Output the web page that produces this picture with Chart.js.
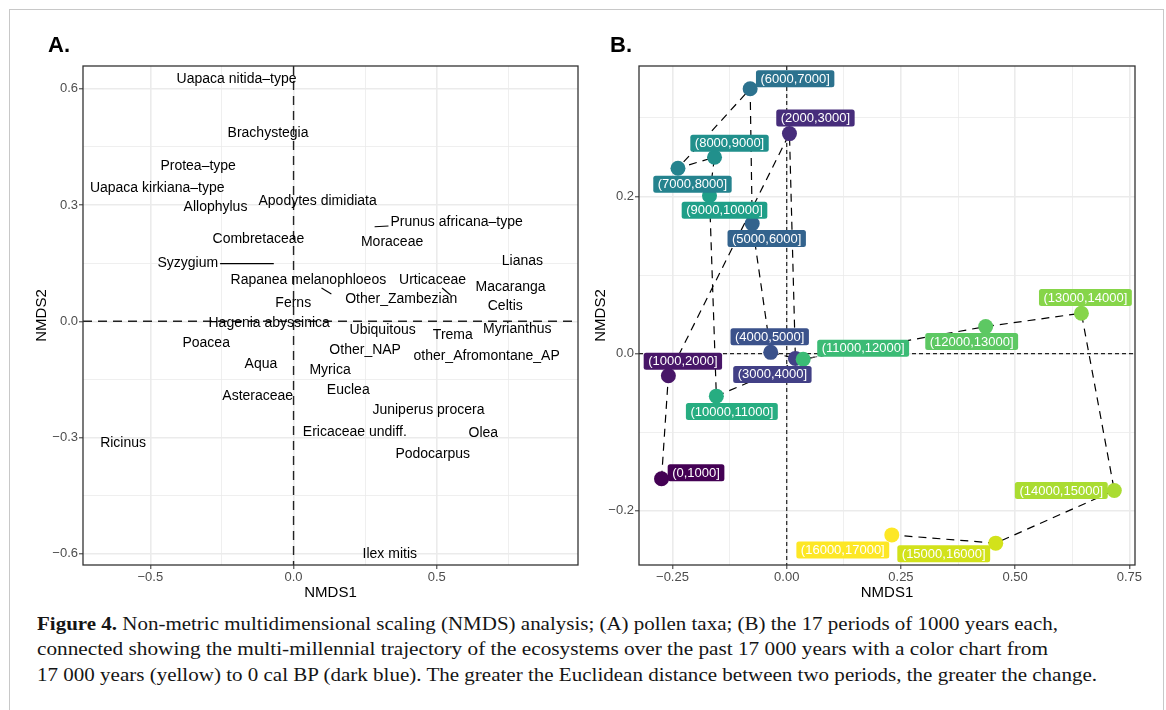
<!DOCTYPE html>
<html><head><meta charset="utf-8">
<script src="https://cdn.jsdelivr.net/npm/chart.js@4.4.0/dist/chart.umd.min.js"></script>
<style>
html,body{margin:0;padding:0;background:#fff;}
#wrap{position:relative;width:1166px;height:710px;overflow:hidden;background:#fff;}
#frame{position:absolute;left:9px;top:9px;width:1153px;height:720px;border:1px solid #c8c8c8;}
canvas{position:absolute;top:0;}
.tag{position:absolute;font:bold 22px/22px "Liberation Sans",Arial,sans-serif;color:#000;}
.cap{position:absolute;left:37px;font:18.5px/18.5px "Liberation Serif","Times New Roman",serif;white-space:nowrap;transform-origin:0 0;color:#151515;}
</style></head><body>
<div id="wrap">
<div id="frame"></div>
<canvas id="cA" width="590" height="602" style="left:0"></canvas>
<canvas id="cB" width="576" height="602" style="left:590px"></canvas>
<div class="tag" style="left:48px;top:34px">A.</div>
<div class="tag" style="left:610px;top:34px">B.</div>
<div class="cap" id="l1" style="top:615px"><b>Figure 4.</b> Non-metric multidimensional scaling (NMDS) analysis; (A) pollen taxa; (B) the 17 periods of 1000 years each,</div>
<div class="cap" id="l2" style="top:640px">connected showing the multi-millennial trajectory of the ecosystems over the past 17 000 years with a color chart from</div>
<div class="cap" id="l3" style="top:666px">17 000 years (yellow) to 0 cal BP (dark blue). The greater the Euclidean distance between two periods, the greater the change.</div>
</div>
<script>
// ---------------- DATA: panel A (pollen taxa NMDS scores) ----------------
const taxa = ['Uapaca nitida–type','Brachystegia','Protea–type','Uapaca kirkiana–type','Allophylus',
  'Apodytes dimidiata','Prunus africana–type','Combretaceae','Moraceae','Lianas','Syzygium',
  'Rapanea melanophloeos','Urticaceae','Macaranga','Other_Zambezian','Ferns','Celtis',
  'Hagenia abyssinica','Myrianthus','Ubiquitous','Trema','Poacea','Other_NAP','other_Afromontane_AP',
  'Aqua','Myrica','Euclea','Asteraceae','Juniperus procera','Ericaceae undiff.','Olea','Ricinus',
  'Podocarpus','Ilex mitis'];
const taxaNMDS1 = [-0.199,-0.089,-0.333,-0.476,-0.2725,0.084,0.283,-0.1225,0.344,0.799,-0.069,
  0.132,0.548,0.7575,0.376,-0.001,0.739,-0.085,0.781,0.311,0.556,-0.305,0.250,0.674,
  -0.114,0.1275,0.191,-0.125,0.471,0.214,0.6625,-0.595,0.486,0.336];
const taxaNMDS2 = [0.626,0.485,0.400,0.345,0.295,0.309,0.244,0.213,0.204,0.156,0.149,
  0.0705,0.068,0.089,0.056,0.046,0.038,-0.005,-0.020,-0.024,-0.036,-0.056,-0.075,-0.091,
  -0.110,-0.126,-0.178,-0.193,-0.229,-0.287,-0.289,-0.3145,-0.344,-0.600];
// axis ticks panel A
const aXMajor = [-0.5, 0, 0.5];
const aXMajorLabels = ['\u22120.5','0.0','0.5'];
const aXMinor = [-0.25, 0.25, 0.75];
const aYMajor = [-0.6, -0.3, 0, 0.3, 0.6];
const aYMajorLabels = ['\u22120.6','\u22120.3','0.0','0.3','0.6'];
const aYMinor = [-0.45, -0.15, 0.15, 0.45];

// ---------------- DATA: panel B (1000-year periods) ----------------
const periods = ['(0,1000]','(1000,2000]','(2000,3000]','(3000,4000]','(4000,5000]','(5000,6000]',
  '(6000,7000]','(7000,8000]','(8000,9000]','(9000,10000]','(10000,11000]','(11000,12000]',
  '(12000,13000]','(13000,14000]','(14000,15000]','(15000,16000]','(16000,17000]'];
const periodNMDS1 = [-0.274,-0.259,0.006,0.019,-0.035,-0.0755,-0.080,-0.238,-0.158,-0.169,-0.154,
  0.036,0.4355,0.645,0.717,0.4575,0.230];
const periodNMDS2 = [-0.159,-0.028,0.280,-0.006,0.0017,0.1655,0.337,0.236,0.250,0.201,-0.054,
  -0.007,0.0345,0.0515,-0.174,-0.241,-0.2305];
const bXMajor = [-0.25, 0, 0.25, 0.5, 0.75];
const bXMajorLabels = ['\u22120.25','0.00','0.25','0.50','0.75'];
const bXMinor = [-0.125, 0.125, 0.375, 0.625];
const bYMajor = [-0.2, 0, 0.2];
const bYMajorLabels = ['\u22120.2','0.0','0.2'];
const bYMinor = [-0.1, 0.1, 0.3];

// ---------------- STYLE / LAYOUT ----------------
const viridis17 = ['#440154','#481668','#472D7B','#424086','#3B528B','#33638D','#2C728E','#25838E',
  '#21908C','#1F9F88','#27AD81','#3BBB75','#5DC863','#86D549','#AADC32','#D2E21B','#FDE725'];
// repel offsets (px) of text relative to the taxon point, panel A
const aRepel = {'Prunus africana–type':[82,-5],'Syzygium':[-86,0],'Rapanea melanophloeos':[-23,-14],'Urticaceae':[-18,-15]};
// label box offsets (px) panel B
const bLabelDX = [34.5,14.5,26,-23,-1,14.5,45,14.5,15,15,15.5,60,-14,4,-53,-52,-49];
const bLabelDY = [-6,-14.5,-15.5,16,-15.6,15,-10,16,-14,14.5,15.3,-11,15,-15.6,0,10.5,15];
const bSegment = [false,false,false,false,false,false,false,false,false,false,false,true,false,false,false,false,false];

const FONT = '"Liberation Sans", Arial, Helvetica, sans-serif';
const GRID = '#EBEBEB';

function near(v, arr){ return arr.findIndex(a => Math.abs(a - v) < 1e-6); }
function axis(opts){
  const major = opts.major, labels = opts.labels, all = major.concat(opts.minor).sort((a,b)=>a-b);
  const horiz = opts.pos === 'bottom';
  return {
    type:'linear', position: opts.pos, min: opts.min, max: opts.max,
    afterBuildTicks: s => { s.ticks = all.map(v => ({value:v})); },
    afterFit: s => { if (horiz) s.height = opts.size; else s.width = opts.size; },
    ticks: { autoSkip:false, maxRotation:0, minRotation:0, padding:1, color:'#4D4D4D',
      font:{family:FONT, size:13},
      callback: v => { const i = near(v, major); return i >= 0 ? labels[i] : ''; } },
    grid: { drawTicks:true, tickLength:4, tickWidth:1,
      color: GRID,
      lineWidth: c => (c.tick && near(c.tick.value, major) >= 0) ? 1.6 : 0.8,
      tickColor: c => (c.tick && near(c.tick.value, major) >= 0) ? '#333333' : 'rgba(0,0,0,0)' },
    border: { display:false },
    title: { display:true, text: opts.title, color:'#000', font:{family:FONT, size:15}, padding:0 }
  };
}

function zeroLines(dash, width, color){
  return {
    id:'zero',
    beforeDatasetsDraw(chart){
      const {ctx, chartArea:a, scales:{x, y}} = chart;
      ctx.save();
      ctx.strokeStyle = color; ctx.lineWidth = width; ctx.setLineDash(dash);
      const px = x.getPixelForValue(0), py = y.getPixelForValue(0);
      ctx.beginPath(); ctx.moveTo(px, a.top); ctx.lineTo(px, a.bottom); ctx.stroke();
      ctx.beginPath(); ctx.moveTo(a.left, py); ctx.lineTo(a.right, py); ctx.stroke();
      ctx.restore();
    }
  };
}
const panelBorder = {
  id:'border',
  afterDraw(chart){
    const {ctx, chartArea:a} = chart;
    ctx.save(); ctx.strokeStyle = '#333333'; ctx.lineWidth = 1.3; ctx.setLineDash([]);
    ctx.strokeRect(a.left, a.top, a.right - a.left, a.bottom - a.top); ctx.restore();
  }
};
// point on box edge along the line from (px,py) to box centre
function boxEdge(px, py, cx, cy, hw, hh){
  const dx = px - cx, dy = py - cy;
  const t = Math.min(hw / Math.max(Math.abs(dx),1e-9), hh / Math.max(Math.abs(dy),1e-9));
  return [cx + dx * t, cy + dy * t];
}

// ---------------- PANEL A ----------------
const taxaLabels = {
  id:'taxaLabels',
  afterDatasetsDraw(chart){
    const ctx = chart.ctx, meta = chart.getDatasetMeta(0);
    ctx.save();
    ctx.font = '14px ' + FONT; ctx.fillStyle = '#000'; ctx.textAlign = 'center'; ctx.textBaseline = 'middle';
    meta.data.forEach((el, i) => {
      const name = taxa[i], off = aRepel[name] || [0,0];
      const cx = el.x + off[0], cy = el.y + off[1];
      if (aRepel[name]) {
        const w = ctx.measureText(name).width;
        const e = boxEdge(el.x, el.y, cx, cy, w/2 + 2, 8);
        ctx.save(); ctx.strokeStyle = '#000'; ctx.lineWidth = 1.1;
        ctx.beginPath(); ctx.moveTo(el.x, el.y); ctx.lineTo(e[0], e[1]); ctx.stroke(); ctx.restore();
      }
      ctx.fillText(name, cx, cy);
    });
    ctx.restore();
  }
};
new Chart(document.getElementById('cA'), {
  type:'scatter',
  data:{ datasets:[{ data: taxa.map((t,i)=>({x:taxaNMDS1[i], y:taxaNMDS2[i]})), pointRadius:0, pointHoverRadius:0 }] },
  options:{
    responsive:false, animation:false, events:[],
    layout:{ padding:{ left:33, top:66, right:12, bottom:0 } },
    plugins:{ legend:{display:false}, tooltip:{enabled:false} },
    scales:{
      x: axis({pos:'bottom', min:-0.735, max:0.993, major:aXMajor, labels:aXMajorLabels, minor:aXMinor, size:37, title:'NMDS1'}),
      y: axis({pos:'left', min:-0.629, max:0.659, major:aYMajor, labels:aYMajorLabels, minor:aYMinor, size:50, title:'NMDS2'})
    }
  },
  plugins:[zeroLines([9,6], 1.4, '#222'), taxaLabels, panelBorder]
});

// ---------------- PANEL B ----------------
const periodLabels = {
  id:'periodLabels',
  afterDatasetsDraw(chart){
    const ctx = chart.ctx, meta = chart.getDatasetMeta(0);
    ctx.save();
    ctx.font = '13px ' + FONT; ctx.textAlign = 'center'; ctx.textBaseline = 'middle';
    meta.data.forEach((el, i) => {
      const txt = periods[i];
      const w = ctx.measureText(txt).width + 9, h = 17;
      const cx = el.x + bLabelDX[i], cy = el.y + bLabelDY[i];
      if (bSegment[i]) {
        const e = boxEdge(el.x, el.y, cx, cy, w/2, h/2);
        const d = Math.hypot(e[0]-el.x, e[1]-el.y), r = 7.5;
        ctx.save(); ctx.strokeStyle = '#555'; ctx.lineWidth = 1;
        ctx.beginPath(); ctx.moveTo(el.x + (e[0]-el.x)*r/d, el.y + (e[1]-el.y)*r/d); ctx.lineTo(e[0], e[1]); ctx.stroke(); ctx.restore();
      }
      ctx.fillStyle = viridis17[i];
      ctx.beginPath();
      if (ctx.roundRect) ctx.roundRect(cx - w/2, cy - h/2, w, h, 2.5); else ctx.rect(cx - w/2, cy - h/2, w, h);
      ctx.fill();
      ctx.fillStyle = '#FFFFFF';
      ctx.fillText(txt, cx, cy + 0.5);
    });
    ctx.restore();
  }
};
new Chart(document.getElementById('cB'), {
  type:'scatter',
  data:{ datasets:[{
    data: periods.map((p,i)=>({x:periodNMDS1[i], y:periodNMDS2[i]})),
    showLine:true, tension:0, borderColor:'#000', borderWidth:1.2, borderDash:[8,6],
    pointRadius:7.5, pointHoverRadius:7.5, pointBorderWidth:0, pointBackgroundColor: viridis17,
    pointBorderColor: viridis17, clip:false
  }] },
  options:{
    responsive:false, animation:false, events:[],
    layout:{ padding:{ left:2, top:66, right:31, bottom:0 } },
    plugins:{ legend:{display:false}, tooltip:{enabled:false} },
    scales:{
      x: axis({pos:'bottom', min:-0.3233, max:0.7623, major:bXMajor, labels:bXMajorLabels, minor:bXMinor, size:37, title:'NMDS1'}),
      y: axis({pos:'left', min:-0.2688, max:0.366, major:bYMajor, labels:bYMajorLabels, minor:bYMinor, size:47, title:'NMDS2'})
    }
  },
  plugins:[zeroLines([4,3], 1.2, '#222'), periodLabels, panelBorder]
});

// ---------------- caption width fitting ----------------
const capTargets = {l1:1021, l2:1011, l3:1060};
Object.keys(capTargets).forEach(id => {
  const el = document.getElementById(id);
  const w = el.getBoundingClientRect().width;
  if (w > 0) el.style.transform = 'scaleX(' + (capTargets[id] / w).toFixed(4) + ')';
});
</script>
</body></html>
